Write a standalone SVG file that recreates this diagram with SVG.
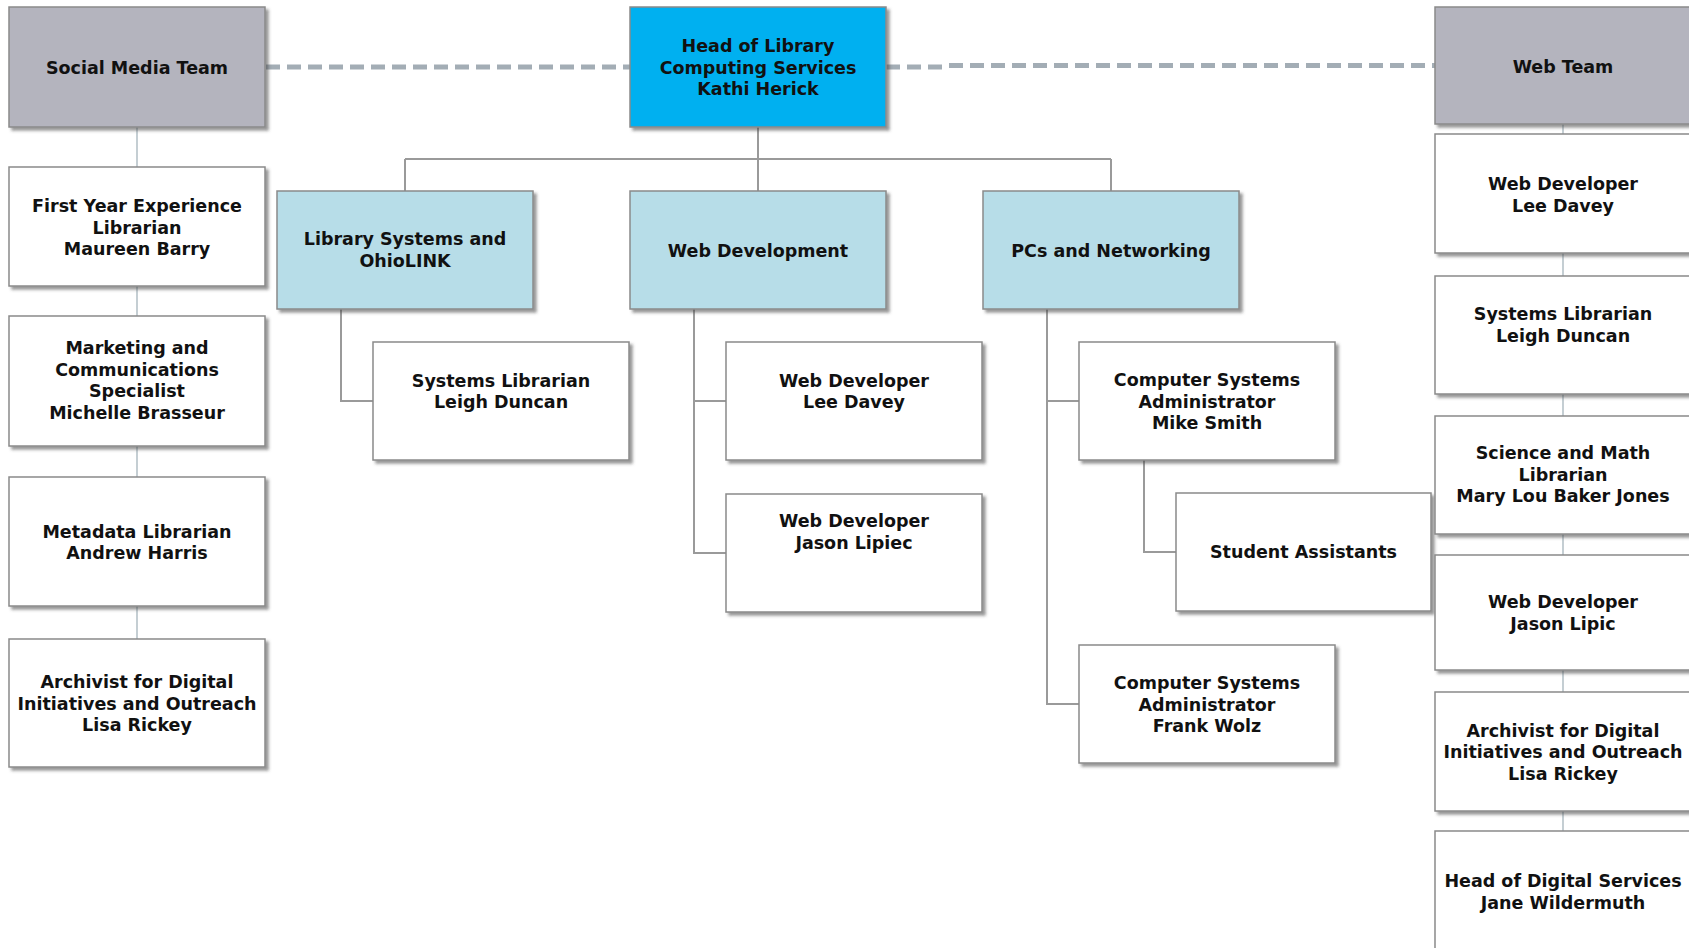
<svg xmlns="http://www.w3.org/2000/svg" width="1689" height="948" viewBox="0 0 1689 948">
<defs>
<filter id="sh" x="-5%" y="-5%" width="115%" height="120%">
<feDropShadow dx="3" dy="3" stdDeviation="1.6" flood-color="#444" flood-opacity="0.55"/>
</filter>
</defs>
<style>
.box{stroke:#8a8a8a;stroke-width:1.5;filter:url(#sh)}
.w{fill:#ffffff}
.team{fill:#b4b4be}
.head{fill:#00b0f0}
.dept{fill:#b7dde8}
text{font-family:"DejaVu Sans","Verdana",sans-serif;font-weight:bold;font-size:17.5px;fill:#111;text-anchor:middle}
.tree{stroke:#9a9a9a;stroke-width:2;fill:none}
.col{stroke:#a6b4bc;stroke-width:1.3;fill:none}
.dash{stroke:#a3adb5;stroke-width:5;stroke-dasharray:14 7;fill:none}
</style>
<rect width="1689" height="948" fill="#ffffff"/>
<g id="connectors">
<path class="dash" d="M266 67 H630"/>
<path class="dash" d="M886 67 H949"/>
<path class="dash" d="M949 65.5 H1435"/>
<path class="tree" d="M758 127 V159 M405 159 H1111 M405 159 V191 M758 159 V191 M1111 159 V191"/>
<path class="tree" d="M341 309 V401 H373"/>
<path class="tree" d="M694 309 V553 H726 M694 401 H726"/>
<path class="tree" d="M1047 309 V704 H1079 M1047 401 H1079"/>
<path class="tree" d="M1144 460 V552 H1176"/>
<path class="col" d="M137 127 V167 M137 286 V316 M137 446 V477 M137 606 V639"/>
<path class="col" d="M1563 124 V134 M1563 253 V276 M1563 394 V416 M1563 534 V555 M1563 670 V692 M1563 811 V831"/>
</g>
<g id="social-media-team"><rect class="box team" x="9" y="7" width="256" height="120"/><text x="137" y="74">Social Media Team</text></g>
<g id="first-year"><rect class="box w" x="9" y="167" width="256" height="119"/><text x="137" y="212">First Year Experience</text><text x="137" y="233.5">Librarian</text><text x="137" y="255">Maureen Barry</text></g>
<g id="marketing"><rect class="box w" x="9" y="316" width="256" height="130"/><text x="137" y="354">Marketing and</text><text x="137" y="375.5">Communications</text><text x="137" y="397">Specialist</text><text x="137" y="418.5">Michelle Brasseur</text></g>
<g id="metadata"><rect class="box w" x="9" y="477" width="256" height="129"/><text x="137" y="537.5">Metadata Librarian</text><text x="137" y="559">Andrew Harris</text></g>
<g id="archivist-left"><rect class="box w" x="9" y="639" width="256" height="128"/><text x="137" y="688">Archivist for Digital</text><text x="137" y="709.5">Initiatives and Outreach</text><text x="137" y="731">Lisa Rickey</text></g>
<g id="head"><rect class="box head" x="630" y="7" width="256" height="120"/><text x="758" y="52">Head of Library</text><text x="758" y="73.5">Computing Services</text><text x="758" y="95">Kathi Herick</text></g>
<g id="web-team"><rect class="box team" x="1435" y="7" width="256" height="117"/><text x="1563" y="72.5">Web Team</text></g>
<g id="library-systems"><rect class="box dept" x="277" y="191" width="256" height="118"/><text x="405" y="245">Library Systems and</text><text x="405" y="266.5">OhioLINK</text></g>
<g id="web-development"><rect class="box dept" x="630" y="191" width="256" height="118"/><text x="758" y="257">Web Development</text></g>
<g id="pcs-networking"><rect class="box dept" x="983" y="191" width="256" height="118"/><text x="1111" y="257">PCs and Networking</text></g>
<g id="systems-librarian-mid"><rect class="box w" x="373" y="342" width="256" height="118"/><text x="501" y="386.5">Systems Librarian</text><text x="501" y="408">Leigh Duncan</text></g>
<g id="web-dev-lee-mid"><rect class="box w" x="726" y="342" width="256" height="118"/><text x="854" y="386.5">Web Developer</text><text x="854" y="408">Lee Davey</text></g>
<g id="web-dev-jason-mid"><rect class="box w" x="726" y="494" width="256" height="118"/><text x="854" y="527">Web Developer</text><text x="854" y="548.5">Jason Lipiec</text></g>
<g id="csa-mike"><rect class="box w" x="1079" y="342" width="256" height="118"/><text x="1207" y="386">Computer Systems</text><text x="1207" y="407.5">Administrator</text><text x="1207" y="429">Mike Smith</text></g>
<g id="student-assistants"><rect class="box w" x="1176" y="493" width="255" height="118"/><text x="1303.5" y="558">Student Assistants</text></g>
<g id="csa-frank"><rect class="box w" x="1079" y="645" width="256" height="118"/><text x="1207" y="689">Computer Systems</text><text x="1207" y="710.5">Administrator</text><text x="1207" y="732">Frank Wolz</text></g>
<g id="web-dev-lee-right"><rect class="box w" x="1435" y="134" width="256" height="119"/><text x="1563" y="190">Web Developer</text><text x="1563" y="211.5">Lee Davey</text></g>
<g id="systems-librarian-right"><rect class="box w" x="1435" y="276" width="256" height="118"/><text x="1563" y="320">Systems Librarian</text><text x="1563" y="341.5">Leigh Duncan</text></g>
<g id="science-math"><rect class="box w" x="1435" y="416" width="256" height="118"/><text x="1563" y="459">Science and Math</text><text x="1563" y="480.5">Librarian</text><text x="1563" y="502">Mary Lou Baker Jones</text></g>
<g id="web-dev-jason-right"><rect class="box w" x="1435" y="555" width="256" height="115"/><text x="1563" y="608">Web Developer</text><text x="1563" y="629.5">Jason Lipic</text></g>
<g id="archivist-right"><rect class="box w" x="1435" y="692" width="256" height="119"/><text x="1563" y="736.5">Archivist for Digital</text><text x="1563" y="758">Initiatives and Outreach</text><text x="1563" y="779.5">Lisa Rickey</text></g>
<g id="head-digital"><rect class="box w" x="1435" y="831" width="256" height="130"/><text x="1563" y="887">Head of Digital Services</text><text x="1563" y="908.5">Jane Wildermuth</text></g>
</svg>
